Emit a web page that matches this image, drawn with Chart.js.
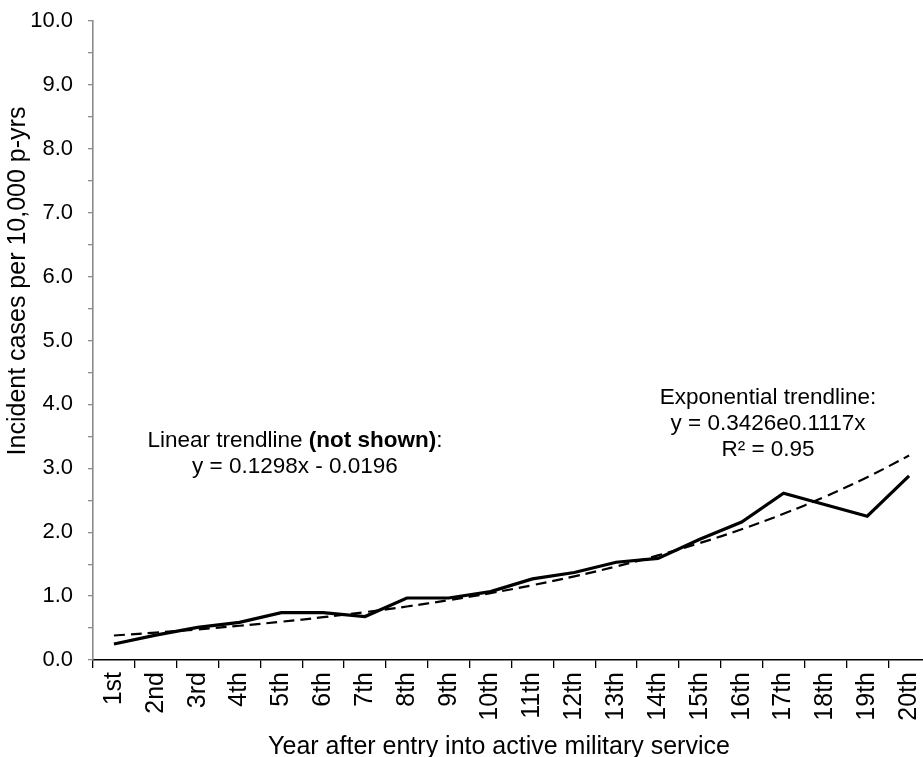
<!DOCTYPE html>
<html>
<head>
<meta charset="utf-8">
<script src="https://cdn.jsdelivr.net/npm/chart.js@4/dist/chart.umd.min.js"></script>
<style>
  html, body { margin: 0; padding: 0; background: #fff; overflow: hidden; }
  #wrap { width: 930px; height: 757px; }
</style>
</head>
<body>
<div id="wrap"><canvas id="chart" width="930" height="757"></canvas></div>
<script>
// Year of service (category axis)
const categories = ['1st', '2nd', '3rd', '4th', '5th', '6th', '7th', '8th', '9th', '10th',
                    '11th', '12th', '13th', '14th', '15th', '16th', '17th', '18th', '19th', '20th'];

// Incident cases per 10,000 person-years
const incidence = [0.25, 0.39, 0.51, 0.59, 0.74, 0.74, 0.68, 0.97, 0.97, 1.07,
                   1.27, 1.37, 1.53, 1.59, 1.89, 2.16, 2.61, 2.43, 2.25, 2.88];

// Exponential trendline coefficients: y = a * e^(b x)
const expA = 0.3426;
const expB = 0.1117;
const expR2 = 0.95;

// Linear trendline coefficients (reported only): y = m x + c
const linM = 0.1298;
const linC = -0.0196;

const trendline = categories.map((_, i) => expA * Math.exp(expB * (i + 1)));

const FONT = '"Liberation Sans", Arial, sans-serif';
const AXIS_GREY = '#8c8c8c';

const textPlugin = {
  id: 'chartText',
  afterDraw(chart) {
    const ctx = chart.ctx;
    ctx.save();
    ctx.fillStyle = '#000';
    ctx.textBaseline = 'middle';

    // Axis titles
    ctx.font = '25px ' + FONT;
    ctx.textAlign = 'center';
    ctx.fillText('Year after entry into active military service', 499, 747);
    ctx.save();
    ctx.translate(18, 281);
    ctx.rotate(-Math.PI / 2);
    ctx.fillText('Incident cases per 10,000 p-yrs', 0, 0);
    ctx.restore();

    // Linear trendline note with a bold fragment
    const size = '22.5px ';
    const parts = [
      { t: 'Linear trendline ', f: size + FONT },
      { t: '(not shown)', f: 'bold ' + size + FONT },
      { t: ':', f: size + FONT }
    ];
    let total = 0;
    parts.forEach(p => { ctx.font = p.f; p.w = ctx.measureText(p.t).width; total += p.w; });
    let x = 295 - total / 2;
    ctx.textAlign = 'left';
    parts.forEach(p => { ctx.font = p.f; ctx.fillText(p.t, x, 441); x += p.w; });
    ctx.textAlign = 'center';
    ctx.font = size + FONT;
    const sign = linC < 0 ? '-' : '+';
    ctx.fillText('y = ' + linM + 'x ' + sign + ' ' + Math.abs(linC).toFixed(4), 295, 467);

    // Exponential trendline note
    ctx.fillText('Exponential trendline:', 768, 398);
    ctx.fillText('y = ' + expA + 'e' + expB + 'x', 768, 424);
    ctx.fillText('R\u00B2 = ' + expR2.toFixed(2), 768, 450);
    ctx.restore();
  }
};

new Chart(document.getElementById('chart'), {
  type: 'line',
  data: {
    labels: categories,
    datasets: [
      {
        label: 'Exponential trendline',
        data: trendline,
        borderColor: '#000',
        borderWidth: 2.2,
        borderDash: [11, 6],
        pointRadius: 0,
        tension: 0.4,
        fill: false,
        order: 2
      },
      {
        label: 'Incidence',
        data: incidence,
        borderColor: '#000',
        borderWidth: 3.2,
        pointRadius: 0,
        tension: 0,
        fill: false,
        order: 1
      }
    ]
  },
  options: {
    responsive: false,
    animation: false,
    devicePixelRatio: 1,
    layout: { padding: { top: 21, right: 0, left: 0, bottom: 0 } },
    plugins: {
      legend: { display: false },
      tooltip: { enabled: false },
      title: { display: false }
    },
    scales: {
      x: {
        type: 'category',
        offset: true,
        grid: {
          offset: true,
          drawOnChartArea: false,
          drawTicks: true,
          tickLength: 8,
          color: '#000',
          lineWidth: 1.3
        },
        border: { color: '#000', width: 1.6 },
        ticks: {
          autoSkip: false,
          maxRotation: 90,
          minRotation: 90,
          padding: 4,
          color: '#000',
          font: { family: FONT, size: 25 }
        },
        afterFit(scale) {
          scale.height = 97;
          scale.paddingLeft = 0;
          scale.paddingRight = 0;
        }
      },
      y: {
        min: 0,
        max: 10,
        grid: {
          drawOnChartArea: false,
          drawTicks: true,
          tickLength: 5,
          color: AXIS_GREY,
          lineWidth: 1.3
        },
        border: { color: AXIS_GREY, width: 1.6 },
        ticks: {
          stepSize: 0.5,
          padding: 15,
          color: '#000',
          font: { family: FONT, size: 22 },
          callback: v => (Math.abs(v - Math.round(v)) < 1e-9 ? v.toFixed(1) : '')
        },
        afterFit(scale) {
          scale.width = 93;
          scale.paddingTop = 0;
          scale.paddingBottom = 0;
        }
      }
    }
  },
  plugins: [textPlugin]
});
</script>
</body>
</html>
